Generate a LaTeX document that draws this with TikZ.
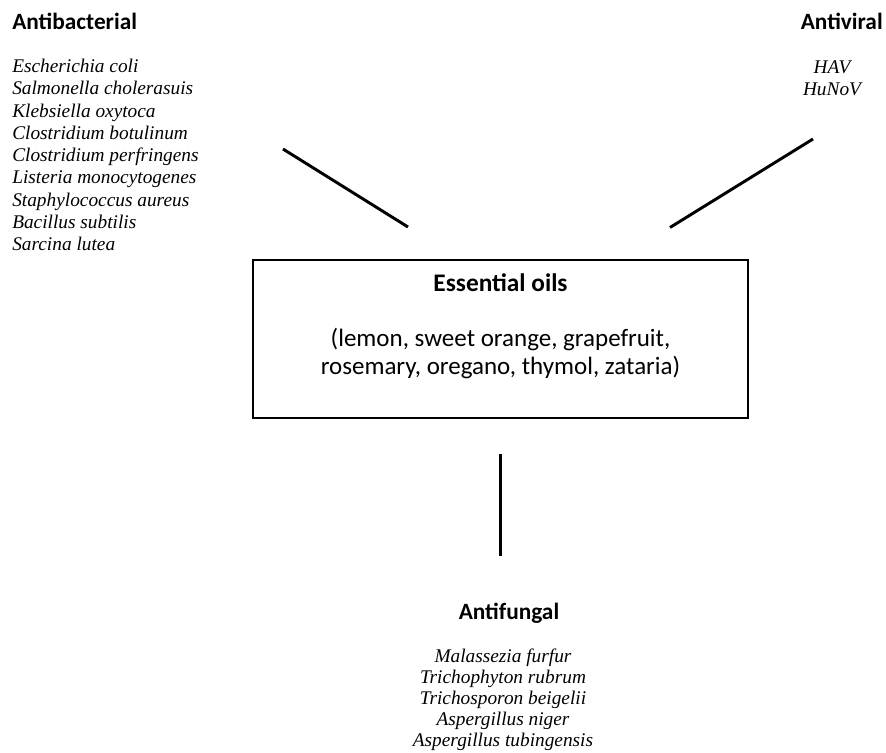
\documentclass[tikz,border=0pt]{standalone}
\usepackage{fontspec}
\setmainfont{Liberation Serif}
\newfontfamily\calibri{Carlito}
\usepackage{tikz}
\usetikzlibrary{positioning}
\tikzstyle{heading}=[font=\calibri\bfseries\fontsize{17.5}{21}\selectfont,inner sep=0pt]
\tikzstyle{species}=[font=\itshape\fontsize{14.5}{16.7}\selectfont,inner sep=0pt]
\tikzstyle{oilbox}=[draw,line width=1pt,minimum width=371.25pt,minimum height=118.5pt,inner sep=0pt]
\tikzstyle{oilhead}=[font=\calibri\bfseries\fontsize{19}{22}\selectfont,inner sep=0pt]
\tikzstyle{oiltext}=[font=\calibri\fontsize{18.75}{22}\selectfont,inner sep=0pt]
\tikzstyle{link}=[draw,line width=2.2pt,-]

\begin{document}
\begin{tikzpicture}[x=0.75pt,y=-0.75pt]
      \useasboundingbox (0,0) rectangle (886,753);
      % centre
      \node[oilbox] (oils) at (500.5,339) {};
      \node[oilhead,anchor=base] (oilname) at (500.5,291) {Essential oils};
      \node[oiltext,anchor=base] (oilsa) at (500.5,346) {(lemon, sweet orange, grapefruit,};
      \node[oiltext,anchor=base] (oilsb) at (500.5,374) {rosemary, oregano, thymol, zataria)};
      % antibacterial
      \node[heading,anchor=base west] (bac) at (12,29) {Antibacterial};
      \foreach \name [count=\i] in {Escherichia coli, Salmonella cholerasuis,
          Klebsiella oxytoca, Clostridium botulinum, Clostridium perfringens,
          Listeria monocytogenes, Staphylococcus aureus, Bacillus subtilis,
          Sarcina lutea}
        \node[species,anchor=base west] (bac\i) at (12,{72.7+22.25*(\i-1)}) {\name};
      % antiviral
      \node[heading,anchor=base east] (vir) at (883,29) {Antiviral};
      \node[species,anchor=base] (vir1) at (832,73) {HAV};
      \node[species,anchor=base] (vir2) at (832,95) {HuNoV};
      % antifungal
      \node[heading,anchor=base] (fun) at (509,619) {Antifungal};
      \foreach \name [count=\i] in {Malassezia furfur, Trichophyton rubrum,
          Trichosporon beigelii, Aspergillus niger, Aspergillus tubingensis}
        \node[species,anchor=base] (fun\i) at (503,{662.7+21*(\i-1)}) {\name};
      % links
      \coordinate (bacend) at (283,149);
      \coordinate (bacstart) at (408,227);
      \coordinate (virend) at (813,139);
      \coordinate (virstart) at (670,227.5);
      \coordinate (funstart) at (500.7,454);
      \coordinate (funend) at (500.7,556);
      \draw[link] (bacstart) -- (bacend);
      \draw[link] (virstart) -- (virend);
      \draw[link] (funstart) -- (funend);
\end{tikzpicture}
\end{document}
